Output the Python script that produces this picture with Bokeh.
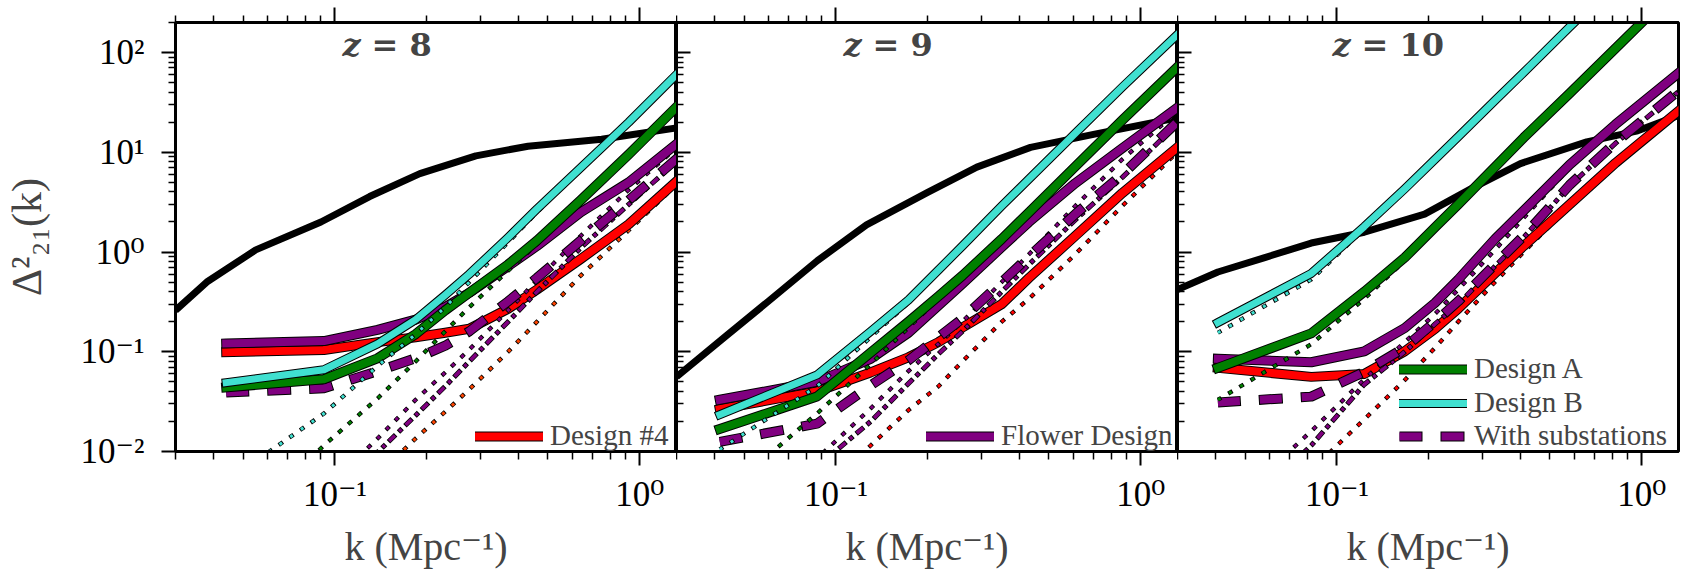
from bokeh.plotting import figure
from bokeh.layouts import row
from bokeh.models import (Range1d, LogAxis, FixedTicker, CustomJSTickFormatter,
                          Legend, LegendItem, Label)
from bokeh.embed import file_html
from bokeh.resources import INLINE

# ---------------------------------------------------------------- data
# 21-cm power spectrum (black curve) for each redshift
k_sig_z8 = [0.03, 0.038, 0.055, 0.09, 0.13, 0.19, 0.29, 0.43, 0.75, 1.4]
sig_z8 = [0.26, 0.5, 1.05, 2.0, 3.6, 6.1, 9.2, 11.5, 13.5, 18.0]
k_sig_z9 = [0.03, 0.043, 0.06, 0.087, 0.126, 0.2, 0.29, 0.435, 0.7, 1.4]
sig_z9 = [0.056, 0.139, 0.32, 0.82, 1.87, 3.96, 7.1, 11.2, 15.1, 23.0]
k_sig_z10 = [0.03, 0.0407, 0.058, 0.0824, 0.123, 0.194, 0.275, 0.4, 0.66, 0.97, 1.4]
sig_z10 = [0.42, 0.63, 0.88, 1.23, 1.58, 2.4, 4.3, 7.7, 12.7, 16.4, 25.0]

# k bins of the noise curves
k_z8 = [0.044, 0.092, 0.138, 0.184, 0.23, 0.276, 0.37, 0.46, 0.64, 0.92, 1.40]
k_z9 = [0.0416, 0.0867, 0.13, 0.173, 0.217, 0.26, 0.35, 0.43, 0.61, 0.87, 1.40]
k_z10 = [0.0407, 0.0824, 0.123, 0.167, 0.21, 0.25, 0.33, 0.41, 0.58, 0.82, 1.40]

# total noise (sample variance + thermal) and thermal-only noise, per design
d4_tot_z8 = [0.099, 0.104, 0.125, 0.14, 0.155, 0.17, 0.27, 0.42, 0.85, 1.9, 6.0]
d4_th_z8 = [0.0002, 0.0017, 0.0058, 0.0135, 0.025, 0.042, 0.1, 0.2, 0.58, 1.65, 5.6]
fl_tot_z8 = [0.121, 0.128, 0.166, 0.21, 0.28, 0.39, 0.72, 1.15, 2.5, 5.0, 14.0]
fl_th_z8 = [0.0005, 0.004, 0.0135, 0.033, 0.062, 0.105, 0.26, 0.52, 1.45, 4.2, 13.0]
sub_tot_z8 = [0.039, 0.043, 0.064, 0.086, 0.115, 0.16, 0.32, 0.55, 1.3, 3.3, 10.0]
sub_th_z8 = [0.0003, 0.0028, 0.0098, 0.023, 0.045, 0.08, 0.2, 0.4, 1.1, 3.0, 9.5]
da_tot_z8 = [0.044, 0.053, 0.086, 0.15, 0.26, 0.39, 0.75, 1.3, 3.3, 9.5, 34.0]
da_th_z8 = [0.0013, 0.0115, 0.034, 0.08, 0.16, 0.28, 0.65, 1.2, 3.2, 9.3, 33.0]
db_tot_z8 = [0.049, 0.066, 0.12, 0.21, 0.37, 0.6, 1.4, 2.7, 7.0, 20.0, 72.0]
db_th_z8 = [0.005, 0.024, 0.072, 0.15, 0.28, 0.5, 1.25, 2.5, 6.8, 19.5, 70.0]

d4_tot_z9 = [0.0265, 0.040, 0.062, 0.088, 0.125, 0.175, 0.30, 0.55, 1.45, 3.9, 13.0]
d4_th_z9 = [0.0004, 0.0037, 0.0115, 0.026, 0.045, 0.08, 0.2, 0.34, 0.95, 2.9, 12.0]
fl_tot_z9 = [0.033, 0.05, 0.085, 0.155, 0.29, 0.48, 1.12, 2.0, 4.9, 11.0, 32.0]
fl_th_z9 = [0.001, 0.0085, 0.027, 0.064, 0.12, 0.2, 0.5, 0.95, 2.9, 8.5, 30.0]
sub_tot_z9 = [0.0125, 0.019, 0.046, 0.082, 0.14, 0.215, 0.5, 0.9, 2.4, 6.0, 24.0]
sub_th_z9 = [0.0009, 0.007, 0.02, 0.048, 0.095, 0.16, 0.4, 0.75, 2.1, 5.6, 23.0]
da_tot_z9 = [0.0168, 0.0356, 0.098, 0.2, 0.36, 0.58, 1.35, 2.5, 7.2, 21.0, 85.0]
da_th_z9 = [0.0035, 0.024, 0.075, 0.175, 0.34, 0.56, 1.32, 2.45, 7.1, 20.8, 84.0]
db_tot_z9 = [0.0234, 0.0586, 0.16, 0.33, 0.66, 1.15, 2.9, 5.4, 15.5, 45.0, 180.0]
db_th_z9 = [0.0105, 0.045, 0.14, 0.31, 0.64, 1.12, 2.85, 5.3, 15.2, 44.5, 178.0]

d4_tot_z10 = [0.069, 0.056, 0.06, 0.101, 0.17, 0.27, 0.61, 1.15, 3.0, 7.8, 30.0]
d4_th_z10 = [0.0008, 0.0065, 0.021, 0.052, 0.11, 0.2, 0.5, 1.0, 2.9, 7.6, 29.8]
fl_tot_z10 = [0.085, 0.0785, 0.101, 0.173, 0.31, 0.53, 1.35, 2.6, 7.5, 19.0, 72.0]
fl_th_z10 = [0.0022, 0.016, 0.053, 0.125, 0.24, 0.42, 1.05, 2.2, 7.0, 18.5, 71.0]
sub_tot_z10 = [0.031, 0.0355, 0.063, 0.11, 0.2, 0.32, 0.75, 1.45, 4.7, 12.5, 48.0]
sub_th_z10 = [0.0015, 0.0115, 0.047, 0.1, 0.19, 0.3, 0.72, 1.4, 4.6, 12.3, 47.0]
da_tot_z10 = [0.069, 0.153, 0.4, 0.88, 1.77, 3.0, 7.1, 14.0, 39.0, 110.0, 550.0]
da_th_z10 = [0.033, 0.119, 0.34, 0.82, 1.7, 2.95, 7.0, 13.9, 38.8, 109.5, 548.0]
db_tot_z10 = [0.196, 0.61, 1.8, 4.3, 8.5, 14.3, 33.0, 63.0, 180.0, 500.0, 2400.0]
db_th_z10 = [0.155, 0.53, 1.7, 4.15, 8.3, 14.1, 32.7, 62.5, 179.0, 499.0, 2400.0]

redshift_labels = ["8", "9", "10"]
legend_labels = ["Design #4", "Flower Design", "Design A", "Design B", "With substations"]

K_MIN, K_MAX = 0.03, 1.32
D_MIN, D_MAX = 0.01, 200.0

# ---------------------------------------------------------------- styling
SERIF = "'Liberation Serif', 'DejaVu Serif', serif"
TITLE_FONT = "'DejaVu Serif', serif"
RED, PURPLE, GREEN, TURQ = "#ff0000", "#800080", "#008000", "#40e0d0"

MAJOR = [10.0 ** e for e in range(-3, 4)]
MINOR = [m * 10.0 ** e for e in range(-3, 3) for m in range(2, 10)]

# legend entry anchors (px from the bottom-left corner of each frame)
LEGEND_SLOTS = [
    [(300, -1)],
    [(250, -1)],
    [(222, 66), (222, 32), (222, -1)],
]

SUP_CODE = """
const sup = {"-": "\u207b", "0": "\u2070", "1": "\u00b9", "2": "\u00b2", "3": "\u00b3",
             "4": "\u2074", "5": "\u2075", "6": "\u2076", "7": "\u2077", "8": "\u2078", "9": "\u2079"};
const e = Math.round(Math.log10(tick));
return "10" + String(e).split("").map((c) => sup[c]).join("");
"""


def ticker():
    return FixedTicker(ticks=MAJOR, minor_ticks=MINOR)


def style_axis(ax, tick_in=0, tick_out=0, minor_in=0, minor_out=0, labels=False,
               font_size="35px", standoff=0):
    ax.ticker = ticker()
    ax.formatter = CustomJSTickFormatter(code=SUP_CODE if labels else "return '';")
    ax.axis_line_width = 3
    ax.axis_line_color = "black"
    ax.major_tick_in = tick_in
    ax.major_tick_out = tick_out
    ax.minor_tick_in = minor_in
    ax.minor_tick_out = minor_out
    ax.major_tick_line_width = 2
    ax.minor_tick_line_width = 1.5
    ax.major_tick_line_color = "black"
    ax.minor_tick_line_color = "black"
    ax.major_label_standoff = standoff
    ax.major_label_text_font = SERIF
    ax.major_label_text_font_size = font_size
    ax.major_label_text_color = "black"


def curve(p, k, v, color, width, dash="solid", edge_dash=None, edge_offset=0,
          cap="butt", edge=2.0):
    """Coloured line drawn over a slightly wider black edge."""
    under = p.line(k, v, line_color="black", line_width=width + edge,
                   line_dash=edge_dash or dash, line_dash_offset=edge_offset,
                   line_cap=cap, line_join="round")
    main = p.line(k, v, line_color=color, line_width=width, line_dash=dash,
                  line_cap=cap, line_join="round")
    return [under, main]


def thermal(p, k, v, color):
    return curve(p, k, v, color, 3, dash="3 10", edge_dash="5 8", edge_offset=1, edge=1.2)


def build_panel(idx, k_sig, sig, k, series, legend_items):
    first, last = idx == 0, idx == 2
    left = 175 if first else 0
    right = 11 if last else 0
    p = figure(width=501 + left + right, height=571,
               x_axis_type="log", y_axis_type="log",
               x_range=Range1d(K_MIN, K_MAX), y_range=Range1d(D_MIN, D_MAX),
               output_backend="svg", toolbar_location=None,
               min_border_left=left, min_border_right=right,
               min_border_top=22, min_border_bottom=117)
    p.grid.visible = False
    p.outline_line_color = "black"
    p.outline_line_width = 3
    p.background_fill_color = "white"
    p.border_fill_color = "white"

    # bottom axis
    bx = p.below[0]
    style_axis(bx, tick_out=14, minor_out=8, labels=True, standoff=9)
    bx.axis_label = "k (Mpc\u207b\u00b9)"
    bx.axis_label_text_font = SERIF
    bx.axis_label_text_font_size = "40px"
    bx.axis_label_text_font_style = "normal"
    bx.axis_label_standoff = 7

    # left axis
    ly = p.left[0]
    if first:
        style_axis(ly, tick_out=14, minor_out=7, labels=True, standoff=17)
        ly.axis_label = "\u0394\u00b2\u2082\u2081(k)"
        ly.axis_label_text_font = SERIF
        ly.axis_label_text_font_size = "42px"
        ly.axis_label_text_font_style = "normal"
        ly.axis_label_standoff = 28
    else:
        style_axis(ly, tick_in=14, minor_in=7)

    # top axis: ticks only
    top = LogAxis()
    style_axis(top, tick_out=15, minor_out=7)
    p.add_layout(top, "above")

    # signal
    p.line(k_sig, sig, line_color="black", line_width=7, line_join="round")

    rend = {}
    d4t, d4h, flt, flh, sbt, sbh, dat, dah, dbt, dbh = series
    red_th = "#ff4500" if first else RED
    thermal(p, k, d4h, red_th)
    rend["Design #4"] = curve(p, k, d4t, RED, 8, cap="square")
    thermal(p, k, flh, PURPLE)
    rend["Flower Design"] = curve(p, k, flt, PURPLE, 8, cap="square")
    curve(p, k, sbh, PURPLE, 3.5, dash="8 6 3 6", edge_dash="10 4 5 4", edge_offset=1,
          edge=1.5)
    rend["With substations"] = curve(p, k, sbt, PURPLE, 8, dash="22 20",
                                     edge_dash="24 18", edge_offset=1)
    thermal(p, k, dah, GREEN)
    rend["Design A"] = curve(p, k, dat, GREEN, 8, cap="square")
    thermal(p, k, dbh, TURQ)
    rend["Design B"] = curve(p, k, dbt, TURQ, 7, cap="square")

    # one frameless legend box per entry, stacked at fixed offsets
    for name, slot in zip(legend_items, LEGEND_SLOTS[idx]):
        leg = Legend(items=[LegendItem(label=name, renderers=rend[name])],
                     location=slot, margin=0, padding=0, spacing=0,
                     glyph_width=68, glyph_height=28, label_height=28, label_standoff=7,
                     label_text_font=SERIF, label_text_font_size="29px",
                     background_fill_alpha=0, border_line_alpha=0)
        p.add_layout(leg)

    # panel title "z = n"
    zlab = redshift_labels[idx]
    off = -40 if len(zlab) > 1 else -28
    p.add_layout(Label(x=0.15, y=120, text="z", text_font=TITLE_FONT,
                       text_font_style="bold italic", text_font_size="32px",
                       text_align="right", text_baseline="middle", x_offset=off))
    p.add_layout(Label(x=0.15, y=120, text="= " + zlab, text_font=TITLE_FONT,
                       text_font_style="bold", text_font_size="32px",
                       text_align="left", text_baseline="middle", x_offset=off + 11))
    return p


p8 = build_panel(0, k_sig_z8, sig_z8, k_z8,
                 [d4_tot_z8, d4_th_z8, fl_tot_z8, fl_th_z8, sub_tot_z8, sub_th_z8,
                  da_tot_z8, da_th_z8, db_tot_z8, db_th_z8],
                 legend_labels[:1])
p9 = build_panel(1, k_sig_z9, sig_z9, k_z9,
                 [d4_tot_z9, d4_th_z9, fl_tot_z9, fl_th_z9, sub_tot_z9, sub_th_z9,
                  da_tot_z9, da_th_z9, db_tot_z9, db_th_z9],
                 legend_labels[1:2])
p10 = build_panel(2, k_sig_z10, sig_z10, k_z10,
                  [d4_tot_z10, d4_th_z10, fl_tot_z10, fl_th_z10, sub_tot_z10, sub_th_z10,
                   da_tot_z10, da_th_z10, db_tot_z10, db_th_z10],
                  legend_labels[2:])

layout = row(p8, p9, p10, spacing=0)
open("out.html", "w").write(file_html(layout, INLINE))
